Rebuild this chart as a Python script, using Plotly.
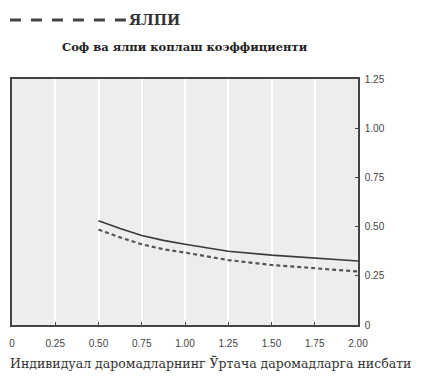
import plotly.graph_objects as go

x_ratio = [0.5, 0.625, 0.75, 0.875, 1.0, 1.25, 1.5, 1.75, 2.0]
sof = [0.53, 0.49, 0.455, 0.43, 0.41, 0.375, 0.355, 0.34, 0.325]
yalpi = [0.485, 0.445, 0.41, 0.385, 0.368, 0.33, 0.305, 0.29, 0.272]
x_ticks = [0, 0.25, 0.5, 0.75, 1.0, 1.25, 1.5, 1.75, 2.0]
x_labels = ["0", "0.25", "0.50", "0.75", "1.00", "1.25", "1.50", "1.75", "2.00"]
y_ticks = [0, 0.25, 0.5, 0.75, 1.0, 1.25]
y_labels = ["0", "0.25", "0.50", "0.75", "1.00", "1.25"]
title = "Соф ва ялпи коплаш коэффициенти"
x_title = "Индивидуал даромадларнинг Ўртача даромадларга нисбати"
legend_label = "ЯЛПИ"

fig = go.Figure()
fig.add_trace(go.Scatter(x=x_ratio, y=sof, mode="lines", name="Соф",
                         line=dict(color="#3a3a3a", width=1.6), showlegend=False))
fig.add_trace(go.Scatter(x=x_ratio, y=yalpi, mode="lines", name=legend_label,
                         line=dict(color="#555555", width=2.2, dash="4px,3px"), showlegend=False))

serif = "DejaVu Serif, Liberation Serif, serif"
sans = "Liberation Sans, Arial, sans-serif"

fig.update_layout(
    width=423, height=377,
    margin=dict(l=12, r=65, t=79, b=52, autoexpand=False),
    paper_bgcolor="white",
    plot_bgcolor="#ededed",
    xaxis=dict(range=[0, 2], tickvals=x_ticks, ticktext=x_labels,
               showgrid=True, gridcolor="white", gridwidth=1.5,
               zeroline=False, showline=True, linecolor="#444", linewidth=1.5, mirror=True,
               ticks="inside", ticklen=3, tickcolor="#444", ticklabelstandoff=8,
               tickfont=dict(family=sans, size=10, color="#444")),
    yaxis=dict(range=[0, 1.25], tickvals=y_ticks, ticktext=y_labels, side="right",
               showgrid=False, zeroline=False, showline=True, linecolor="#444", linewidth=1.5, mirror=True,
               ticks="inside", ticklen=3, tickcolor="#444", ticklabelstandoff=3,
               tickfont=dict(family=sans, size=10, color="#444")),
    font=dict(family=serif),
)

fig.add_annotation(text="<b>" + title + "</b>", xref="paper", yref="paper",
                   x=0.5, y=1.0, yanchor="middle", yshift=32, showarrow=False,
                   font=dict(family=serif, size=11.5, color="#222"))
# x-axis title as annotation (centered under the whole chart, like the reference)
fig.add_annotation(text=x_title, xref="paper", yref="paper",
                   x=0.575, y=-0.154, xanchor="center", yanchor="middle", showarrow=False,
                   font=dict(family=serif, size=12.5, color="#333"))
# legend sample (dashed line + label)
fig.add_shape(type="line", xref="paper", yref="paper",
              x0=-0.006, x1=0.333, y0=1.24, y1=1.24,
              line=dict(color="#444", width=3, dash="11px,10px"))
fig.add_annotation(text="<b>" + legend_label + "</b>", xref="paper", yref="paper",
                   x=0.333, y=1.24, xanchor="left", yanchor="middle", showarrow=False,
                   font=dict(family=serif, size=14, color="#333"))

fig.write_html("out.html", post_script="document.body.style.margin='0';",
               config={"displayModeBar": False})
